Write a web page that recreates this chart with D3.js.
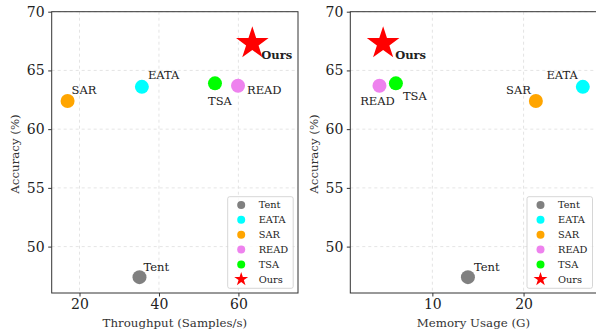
<!DOCTYPE html>
<html lang="en">
<head>
<meta charset="utf-8">
<title>Accuracy vs throughput / memory</title>
<script src="https://cdn.jsdelivr.net/npm/d3@7"></script>
<style>
  body { margin: 0; background: #fff; }
  svg text { font-family: "DejaVu Serif", serif; }
  .tick text { font-size: 14px; fill: #222; }
  .grid line { stroke: #ddd; stroke-dasharray: 3,3; stroke-width: 0.8; }
  .lab { font-size: 11.5px; fill: #222; }
  .axlab { font-size: 11.8px; fill: #333; }
  .leg text { font-size: 9.8px; fill: #222; }
</style>
</head>
<body>
<script>
// data
var methods = ["Tent", "EATA", "SAR", "READ", "TSA", "Ours"];
var accuracy = [47.4, 63.6, 62.4, 63.7, 63.9, 67.3];
var throughput = [35.1, 35.7, 17.0, 59.9, 54.1, 63.5];
var memory = [13.9, 26.5, 21.35, 4.2, 6.0, 4.6];
var colors = ["gray", "cyan", "orange", "violet", "lime", "red"];
var yTicks = [50, 55, 60, 65, 70];
var throughputTicks = [20, 40, 60];
var memoryTicks = [10, 20];

var w = 596, h = 333;
var svg = d3.select("body").append("svg").attr("width", w).attr("height", h);

var star = d3.symbol().type(d3.symbolStar);

// label placement per panel: [dx, dy, anchor]
var panels = [
  {
    xs: throughput, ticks: throughputTicks, domain: [13, 75],
    left: 51.7, right: 298, title: "Throughput (Samples/s)",
    labels: [[4, -10, "start"], [6, -12, "start"], [4, -11, "start"],
             [9, 4, "start"], [-7, 18, "start"], [9, 12, "start"]],
    legend: 227.7
  },
  {
    xs: memory, ticks: memoryTicks, domain: [1, 28],
    left: 350.3, right: 596.5, title: "Memory Usage (G)",
    labels: [[6, -10, "start"], [-5, -12, "end"], [-5, -11, "end"],
             [-2, 15, "middle"], [7, 13, "start"], [12, 12, "start"]],
    legend: 527
  }
];

var yTop = 11.7, yBottom = 293;
var y = d3.scaleLinear().domain([46.05, 70]).range([yBottom, yTop]);

panels.forEach(function(p) {
  var x = d3.scaleLinear().domain(p.domain).range([p.left, p.right]);
  var g = svg.append("g");

  // grid
  var grid = g.append("g").attr("class", "grid");
  grid.selectAll(".gx").data(p.ticks).enter().append("line")
    .attr("x1", function(d) { return x(d); }).attr("x2", function(d) { return x(d); })
    .attr("y1", yTop).attr("y2", yBottom);
  grid.selectAll(".gy").data(yTicks).enter().append("line")
    .attr("x1", p.left).attr("x2", p.right)
    .attr("y1", function(d) { return y(d); }).attr("y2", function(d) { return y(d); });

  // axes
  var ax = g.append("g").attr("transform", "translate(0," + yBottom + ")")
    .call(d3.axisBottom(x).tickValues(p.ticks).tickSize(3.5).tickPadding(3));
  var ay = g.append("g").attr("transform", "translate(" + p.left + ",0)")
    .call(d3.axisLeft(y).tickValues(yTicks).tickSize(3.5).tickPadding(3.5));
  [ax, ay].forEach(function(a) {
    a.select(".domain").remove();
    a.selectAll(".tick line").attr("stroke", "#333");
  });

  g.append("rect")
    .attr("x", p.left).attr("y", yTop)
    .attr("width", p.right - p.left).attr("height", yBottom - yTop)
    .attr("fill", "none").attr("stroke", "#333").attr("stroke-width", 1);

  // axis titles
  g.append("text").attr("class", "axlab")
    .attr("x", (p.left + p.right) / 2).attr("y", 323.3).attr("dy", "0.35em")
    .attr("text-anchor", "middle").text(p.title);
  g.append("text").attr("class", "axlab")
    .attr("transform", "translate(" + (p.left - 36.5) + "," + 154 + ") rotate(-90)")
    .attr("dy", "0.35em").attr("text-anchor", "middle").text("Accuracy (%)");

  // points
  methods.forEach(function(m, i) {
    var px = x(p.xs[i]), py = y(accuracy[i]);
    if (m === "Ours") {
      g.append("path").attr("d", star.size(330)())
        .attr("transform", "translate(" + px + "," + py + ")")
        .attr("fill", colors[i]);
    } else {
      g.append("circle").attr("cx", px).attr("cy", py).attr("r", 7)
        .attr("fill", colors[i]);
    }
    var l = p.labels[i];
    g.append("text").attr("class", "lab")
      .attr("x", px + l[0]).attr("y", py + l[1]).attr("dy", "0.35em")
      .attr("text-anchor", l[2])
      .style("font-weight", m === "Ours" ? "bold" : null)
      .text(m);
  });

  // legend
  var lg = g.append("g").attr("class", "leg");
  lg.append("rect").attr("x", p.legend).attr("y", 196.7)
    .attr("width", 65.5).attr("height", 91.6).attr("rx", 2)
    .attr("fill", "#fff").attr("fill-opacity", 0.8)
    .attr("stroke", "#ccc").attr("stroke-width", 0.8);
  methods.forEach(function(m, i) {
    var ly = 205 + i * 14.85;
    if (m === "Ours") {
      lg.append("path").attr("d", star.size(60)())
        .attr("transform", "translate(" + (p.legend + 13.5) + "," + ly + ")")
        .attr("fill", colors[i]);
    } else {
      lg.append("circle").attr("cx", p.legend + 13.5).attr("cy", ly).attr("r", 4)
        .attr("fill", colors[i]);
    }
    lg.append("text").attr("x", p.legend + 31).attr("y", ly).attr("dy", "0.35em").text(m);
  });
});
</script>
</body>
</html>
